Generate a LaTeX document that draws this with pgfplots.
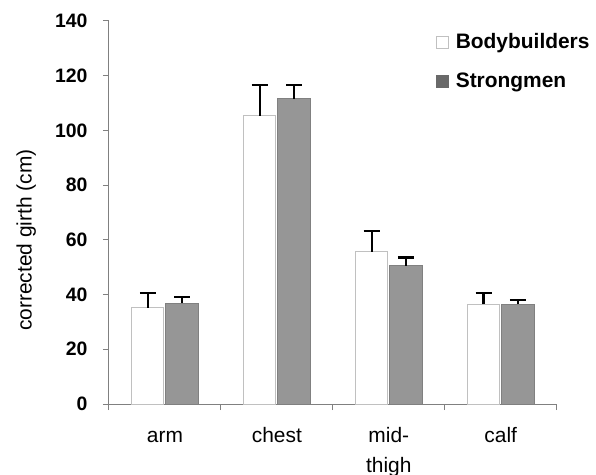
\documentclass[border=0pt]{standalone}
\usepackage{pgfplots}
\pgfplotsset{compat=1.18}
\usepackage{fontspec}
\setmainfont{Liberation Sans}
\definecolor{barg}{RGB}{150,150,150}
\definecolor{barge}{RGB}{128,128,128}
\definecolor{whe}{RGB}{192,192,192}
\definecolor{axg}{RGB}{128,128,128}
\definecolor{legg}{RGB}{105,105,105}
\begin{document}
\begin{tikzpicture}
\useasboundingbox (-109bp,-71bp) rectangle (487bp,404bp);
\begin{axis}[
  at={(0,0)}, anchor=south west,
  scale only axis, width=447.7bp, height=383bp,
  xmin=-0.5, xmax=3.5, ymin=0, ymax=140,
  axis x line=bottom, axis y line=left,
  axis line style={axg, line width=1bp, -},
  ybar, bar width=32.3bp,
  xtick={0,1,2,3},
  xticklabels={{arm\\\strut},{chest\\\strut},{mid-\\thigh},{calf\\\strut}},
  major x tick style={draw=none},
  minor xtick={-0.5,0.5,1.5,2.5,3.5},
  minor x tick style={axg, line width=1bp},
  minor tick length=6bp,
  ytick={0,20,...,140},
  y tick style={axg, line width=1bp},
  major tick length=6bp,
  tick align=outside,
  xticklabel style={font=\fontsize{21}{30}\selectfont, align=center, anchor=base, yshift=-62bp},
  yticklabel style={font=\fontsize{19.5}{20}\selectfont\bfseries, xshift=-12bp},
  /pgf/number format/assume math mode=true,
  ylabel={corrected girth (cm)},
  ylabel style={font=\fontsize{21}{22}\selectfont, at={(axis description cs:-0.1555,0.428)}, anchor=south},
  legend style={draw=none, fill=none, at={(axis description cs:0.730,0.970)}, anchor=north west,
     font=\fontsize{21}{22}\selectfont\bfseries, row sep=21bp, column sep=6bp, inner sep=0pt,
     nodes={inner sep=1bp}},
  legend cell align=left,
  error bars/y dir=plus, error bars/y explicit,
  error bars/error bar style={black, line width=2.3bp},
  error bars/error mark options={black, line width=2.3bp, mark size=8bp, rotate=90},
]
\addplot[fill=white, draw=whe, line width=1bp,
  legend image code/.code={\draw[fill=white, draw=whe, line width=0.8bp] (0bp,-6bp) rectangle (12bp,6bp);}]
  coordinates {(0,35.2) +- (0,5.3) (1,105.4) +- (0,11.2) (2,55.7) +- (0,7.6) (3,36.5) +- (0,4.0)};
\addplot[fill=barg, draw=barge, line width=1bp,
  legend image code/.code={\draw[fill=legg, draw=legg, line width=0.8bp] (0bp,-6bp) rectangle (12bp,6bp);}]
  coordinates {(0,36.8) +- (0,2.2) (1,111.5) +- (0,5.1) (2,50.5) +- (0,3.0) (3,36.5) +- (0,1.5)};
\legend{Bodybuilders,Strongmen}
\end{axis}
\end{tikzpicture}
\end{document}
